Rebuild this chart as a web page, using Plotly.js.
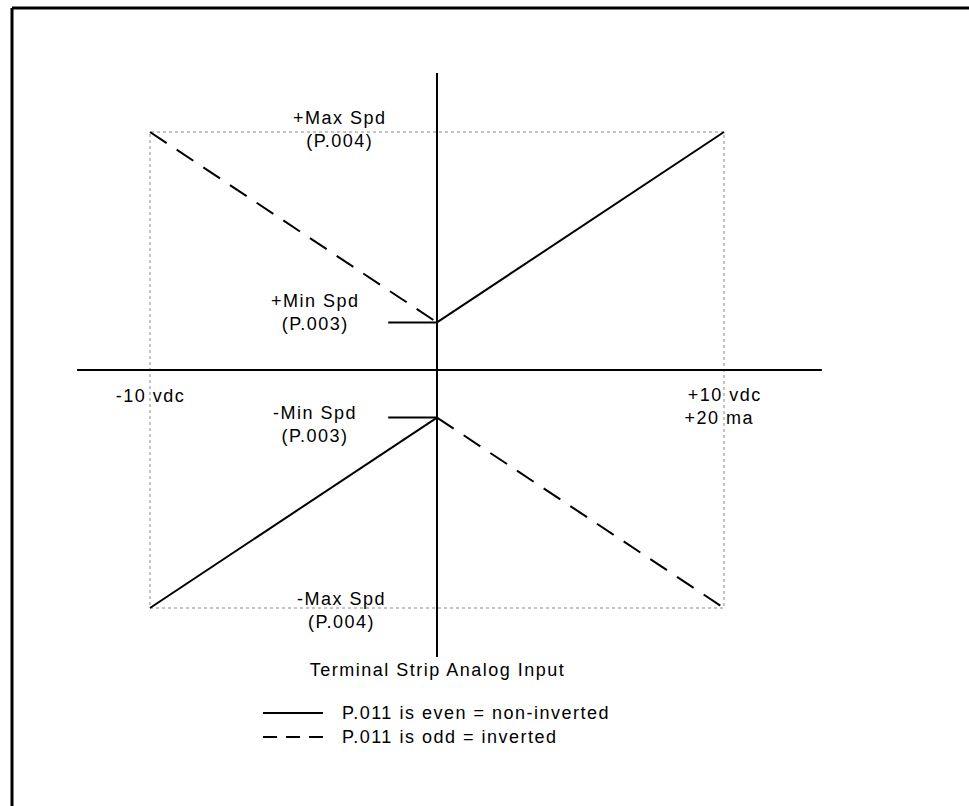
<!DOCTYPE html>
<html>
<head>
<meta charset="utf-8">
<script src="https://cdn.plot.ly/plotly-3.0.1.min.js"></script>
<style>
  html, body { margin: 0; padding: 0; background: #ffffff; }
  #chart { width: 969px; height: 806px; }
  #chart .annotation-text { letter-spacing: 1.5px; }
</style>
</head>
<body>
<div id="chart"></div>
<script>
// ---- data (input volts vs speed reference) ----
const maxSpd = 10;          // +/- Max Spd (P.004)
const minSpd = 2;           // +/- Min Spd (P.003)
const inputMin = -10;       // -10 vdc
const inputMax = 10;        // +10 vdc / +20 ma

// non-inverted (P.011 even)
const nonInvX = [0, 10, null, -10, 0];
const nonInvY = [2, 10, null, -10, -2];
// inverted (P.011 odd)
const invX = [-10, 0, null, 0, 10];
const invY = [10, 2, null, -2, -10];
// min speed marker stubs
const stubX = [-1.7, 0, null, -1.7, 0];
const stubY = [2, 2, null, -2, -2];
// the two drawn axes
const hAxisX = [-12.54, 13.41];
const hAxisY = [0, 0];
const vAxisX = [0, 0];
const vAxisY = [-12.06, 12.48];

const legendLabels = ['P.011 is even = non-inverted', 'P.011 is odd = inverted'];

// ---- helpers for paper coords from pixels ----
const W = 969, H = 806;
const px = x => x / W;
const py = y => 1 - y / H;

const FONT = 'Liberation Sans, Arial, Helvetica, sans-serif';
const fs = 18;
const DASH = '20px,12px';

const traces = [
  { x: hAxisX, y: hAxisY, mode: 'lines', line: {color: '#000', width: 2}, showlegend: false, hoverinfo: 'skip' },
  { x: vAxisX, y: vAxisY, mode: 'lines', line: {color: '#000', width: 2}, showlegend: false, hoverinfo: 'skip' },
  { x: stubX, y: stubY, mode: 'lines', line: {color: '#000', width: 2}, showlegend: false, hoverinfo: 'skip', connectgaps: false },
  { x: nonInvX, y: nonInvY, mode: 'lines', name: legendLabels[0], line: {color: '#000', width: 2}, connectgaps: false },
  { x: invX, y: invY, mode: 'lines', name: legendLabels[1], line: {color: '#000', width: 2, dash: DASH}, connectgaps: false }
];

function ann(text, x, y, anchor) {
  return { text: text, xref: 'paper', yref: 'paper', x: px(x), y: py(y),
           xanchor: anchor || 'center', yanchor: 'middle', showarrow: false, align: anchor || 'center',
           font: {family: FONT, size: fs, color: '#000'} };
}

const layout = {
  width: W, height: H,
  margin: {l: 0, r: 0, t: 0, b: 0},
  paper_bgcolor: '#fff', plot_bgcolor: '#fff',
  xaxis: { visible: false, range: [-15.226, 18.537], fixedrange: true },
  yaxis: { visible: false, range: [-18.319, 15.546], fixedrange: true },
  hovermode: false,
  showlegend: false,
  shapes: [
    // outer frame (left and top edges)
    { type: 'line', xref: 'paper', yref: 'paper', x0: px(12), x1: px(12), y0: py(8), y1: -0.05, line: {color: '#000', width: 3} },
    { type: 'line', xref: 'paper', yref: 'paper', x0: px(12), x1: 1.05, y0: py(8), y1: py(8), line: {color: '#000', width: 3} },
    // dotted limit box
    { type: 'rect', xref: 'x', yref: 'y', x0: inputMin, x1: inputMax, y0: -maxSpd, y1: maxSpd,
      line: {color: '#8a8a8a', width: 1, dash: 'dot'}, layer: 'below' },
    // legend samples
    { type: 'line', xref: 'paper', yref: 'paper', x0: px(263), x1: px(323), y0: py(713), y1: py(713), line: {color: '#000', width: 2} },
    { type: 'line', xref: 'paper', yref: 'paper', x0: px(263), x1: px(323), y0: py(737), y1: py(737), line: {color: '#000', width: 2, dash: '14px,9px'} }
  ],
  annotations: [
    ann('+Max Spd<br>(P.004)', 340, 129),
    ann('+Min Spd<br>(P.003)', 315, 313),
    ann('-Min Spd<br>(P.003)', 315, 424),
    ann('-Max Spd<br>(P.004)', 341, 610),
    ann('-10 vdc', 150, 396),
    ann('+10 vdc', 725, 395),
    ann('+20 ma', 720, 418),
    ann('Terminal Strip Analog Input', 437, 670),
    ann(legendLabels[0], 340, 713, 'left'),
    ann(legendLabels[1], 340, 737, 'left')
  ]
};

Plotly.newPlot('chart', traces, layout, {displayModeBar: false, staticPlot: true});
</script>
</body>
</html>
